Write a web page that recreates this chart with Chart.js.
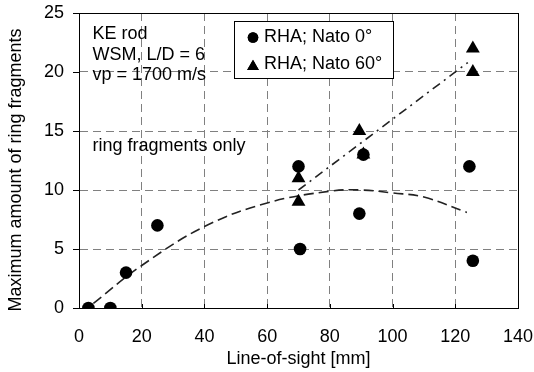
<!DOCTYPE html>
<html><head><meta charset="utf-8">
<script src="https://cdn.jsdelivr.net/npm/chart.js@4.4.1/dist/chart.umd.min.js"></script>
<style>html,body{margin:0;padding:0;background:#fff}#wrap{width:534px;height:372px;position:relative}</style>
</head><body><div id="wrap"><canvas id="c" width="534" height="372"></canvas></div>
<script>
// ---- data ----
const nato0X = [3, 10, 15, 25, 70, 70.5, 89.4, 90.7, 124.5, 125.6];
const nato0Y = [0, 0, 3, 7, 12, 5, 8, 13, 12, 4];
const nato60X = [70, 70, 89.4, 90.7, 125.6, 125.6];
const nato60Y = [11, 9, 15, 13, 22, 20];
const trend0X = [4.6, 20, 40, 60, 80, 90, 100, 110, 123.7];
const trend0Y = [0.4, 3.6, 6.9, 8.9, 9.9, 10.0, 9.75, 9.4, 8.1];
const trend60X = [70, 124];
const trend60Y = [10, 20.8];
const xTickValues = [0, 20, 40, 60, 80, 100, 120, 140];
const yTickValues = [0, 5, 10, 15, 20, 25];
const legendLabels = ['RHA; Nato 0°', 'RHA; Nato 60°'];
const noteLines = ['KE rod', 'WSM, L/D = 6', 'vp = 1700 m/s'];
const noteRing = 'ring fragments only';
const xTitle = 'Line-of-sight [mm]';
const yTitle = 'Maximum amount of ring fragments';

const FONT = '"Liberation Sans", Arial, sans-serif';
const FS = 18;
const pts = (xs, ys) => xs.map((x, i) => ({x: x, y: ys[i]}));

const deco = {
  id: 'deco',
  beforeDatasetsDraw(chart) {
    const {ctx, chartArea: a, scales} = chart;
    ctx.save();
    ctx.strokeStyle = '#000'; ctx.lineWidth = 1;
    // x ticks (inward) and y ticks (outward)
    xTickValues.forEach(v => {
      const px = Math.round(scales.x.getPixelForValue(v)) + 0.5;
      ctx.beginPath(); ctx.moveTo(px, a.bottom); ctx.lineTo(px, a.bottom - 4); ctx.stroke();
    });
    yTickValues.forEach(v => {
      const py = Math.round(scales.y.getPixelForValue(v)) + 0.5;
      ctx.beginPath(); ctx.moveTo(a.left - 6, py); ctx.lineTo(a.left, py); ctx.stroke();
    });
    ctx.strokeRect(Math.round(a.left) + 0.5, Math.round(a.top) + 0.5, Math.round(a.right - a.left), Math.round(a.bottom - a.top));
    ctx.restore();
  },
  afterDatasetsDraw(chart) {
    const {ctx} = chart;
    ctx.save();
    ctx.font = FS + 'px ' + FONT;
    ctx.fillStyle = '#000';
    ctx.textAlign = 'left'; ctx.textBaseline = 'alphabetic';
    const nb = [38.5, 60, 80];
    noteLines.forEach((t, i) => ctx.fillText(t, 92.5, nb[i]));
    ctx.fillText(noteRing, 92.5, 151);
    // legend box
    ctx.fillStyle = '#fff';
    ctx.fillRect(234.5, 21.5, 159, 57);
    ctx.strokeStyle = '#000'; ctx.lineWidth = 1;
    ctx.strokeRect(234.5, 21.5, 159, 57);
    ctx.fillStyle = '#000';
    const styles = ['circle', 'triangle'];
    const radii = [5.3, 6.8];
    const ly = [37.5, 64.5];
    styles.forEach((s, i) => {
      Chart.helpers.drawPoint(ctx, {pointStyle: s, radius: radii[i], borderWidth: 0, rotation: 0}, 253, ly[i] + (s === 'triangle' ? 2 : 0));
      ctx.fill();
    });
    ctx.textBaseline = 'middle';
    legendLabels.forEach((t, i) => ctx.fillText(t, 264, ly[i]));
    // y axis title
    ctx.translate(16, 170);
    ctx.rotate(-Math.PI / 2);
    ctx.textAlign = 'center';
    ctx.fillText(yTitle, 0, 0);
    ctx.restore();
  }
};

new Chart(document.getElementById('c'), {
  type: 'scatter',
  data: {
    datasets: [
      {label: 'trend0', data: pts(trend0X, trend0Y), showLine: true, pointRadius: 0,
       borderColor: '#222', borderWidth: 1.6, borderDash: [10, 5], tension: 0.4, fill: false, order: 3},
      {label: 'trend60', data: pts(trend60X, trend60Y), showLine: true, pointRadius: 0,
       borderColor: '#222', borderWidth: 1.6, borderDash: [9, 5, 2, 5], fill: false, order: 3},
      {label: legendLabels[1], data: pts(nato60X, nato60Y), pointStyle: 'triangle', pointRadius: 8,
       backgroundColor: '#000', borderColor: '#000', borderWidth: 0, order: 2},
      {label: legendLabels[0], data: pts(nato0X, nato0Y), pointStyle: 'circle', pointRadius: 6.3,
       backgroundColor: '#000', borderColor: '#000', borderWidth: 0, order: 1}
    ]
  },
  options: {
    responsive: false, animation: false, events: [],
    layout: {padding: {top: 13, right: 16, left: 0, bottom: 0}},
    plugins: {legend: {display: false}, tooltip: {enabled: false}},
    scales: {
      x: {
        type: 'linear', min: 0, max: 140,
        afterBuildTicks: s => { s.ticks = xTickValues.map(v => ({value: v})); },
        afterFit: s => { s.height = 64; },
        grid: {color: '#808080', lineWidth: 1, drawTicks: true, tickLength: 18, tickColor: 'rgba(0,0,0,0)'},
        border: {display: true, color: '#000', width: 1, dash: [8, 5]},
        ticks: {color: '#000', font: {family: FONT, size: FS}, padding: 0, maxRotation: 0},
        title: {display: true, text: xTitle, color: '#000', font: {family: FONT, size: FS}, padding: {top: 0, bottom: 2}}
      },
      y: {
        type: 'linear', min: 0, max: 25,
        afterBuildTicks: s => { s.ticks = yTickValues.map(v => ({value: v})); },
        afterFit: s => { s.width = 79; },
        grid: {color: '#808080', lineWidth: 1, drawTicks: true, tickLength: 15, tickColor: 'rgba(0,0,0,0)'},
        border: {display: true, color: '#000', width: 1, dash: [8, 5]},
        ticks: {color: '#000', font: {family: FONT, size: FS}, padding: 0}
      }
    }
  },
  plugins: [deco]
});
</script>
</body></html>
